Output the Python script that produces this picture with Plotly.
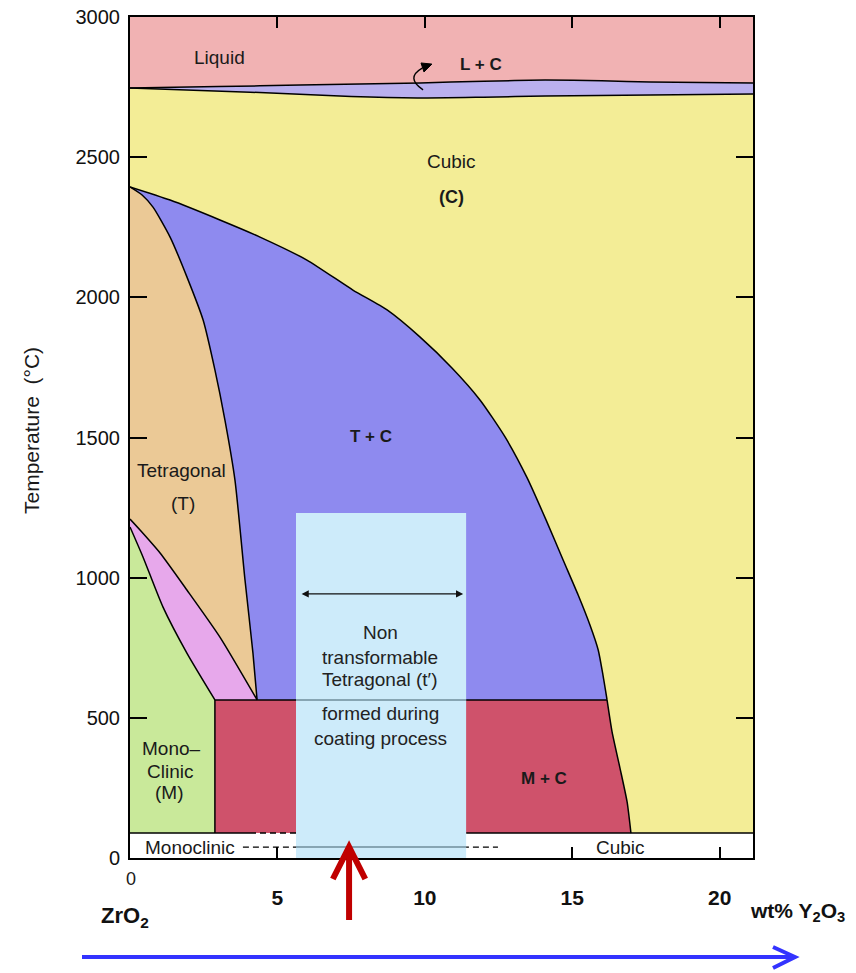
import plotly.graph_objects as go

# ---- ZrO2 - Y2O3 phase diagram: composition (wt% Y2O3) vs temperature (°C) ----
X_MAX = 21.13          # right edge of the composition axis
T_MAX = 3000           # top of the temperature axis
T_EUTECTOID = 564      # monoclinic + cubic / tetragonal + cubic boundary
T_ROOM = 89            # bottom of the coloured field
T_LOW = 39             # dashed low-temperature boundary

# liquidus / solidus (L + C band)
liquidus_x = [0, 3.0, 5.77, 9.84, 12.0, 14.08, 16.0, 17.64, 21.13]
liquidus_t = [2747, 2752, 2757, 2765, 2771, 2775, 2773, 2768, 2765]
solidus_x = [0, 4.07, 7.5, 9.74, 12.0, 14.08, 17.64, 21.13]
solidus_t = [2747, 2732, 2716, 2711, 2714, 2718, 2722, 2725]

# (T + C) / cubic boundary
cubic_x = [0, 1.36, 3.05, 4.41, 6.00, 7.56, 8.72, 9.84, 10.92, 11.87, 12.72,
           13.47, 14.11, 14.69, 15.20, 15.60, 15.88, 16.04, 16.18]
cubic_t = [2394, 2347, 2276, 2215, 2133, 2026, 1955, 1858, 1748, 1634, 1502,
           1356, 1206, 1063, 938, 831, 742, 653, 564]

# tetragonal / (T + C) boundary
tetra_x = [0, 0.41, 0.78, 1.36, 1.93, 2.48, 2.88, 3.22, 3.56, 3.90, 4.17, 4.31]
tetra_t = [2394, 2365, 2322, 2215, 2073, 1919, 1741, 1562, 1348, 992, 731, 564]

# tetragonal / (M + T) boundary
mt_upper_x = [0, 0.34, 1.02, 1.93, 3.05, 4.31]
mt_upper_t = [1209, 1170, 1088, 956, 788, 564]

# monoclinic / (M + T) boundary
mt_lower_x = [0, 0.44, 1.12, 1.93, 2.88]
mt_lower_t = [1181, 1074, 895, 731, 564]

# (M + C) / cubic boundary
mc_right_x = [16.18, 16.35, 16.62, 16.86, 16.99]
mc_right_t = [564, 450, 320, 200, 89]

# non-transformable t' composition window
tprime_x = [5.63, 11.40]
tprime_top = 1231
tprime_arrow_t = 942

# phase colours
C_LIQUID = "#F1B2B3"
C_LC = "#BAB0EE"
C_CUBIC = "#F3ED96"
C_TETRA = "#EBC996"
C_TC = "#8E8AEF"
C_MT = "#E7A8EB"
C_MONO = "#C9E99A"
C_MC = "#CF526B"
C_BOX = "#CDEBFA"

DIAG_FONT = "Liberation Sans, Arial, sans-serif"

fig = go.Figure()


def region(xs, ts, color):
    fig.add_trace(go.Scatter(x=xs, y=ts, fill="toself", fillcolor=color,
                             mode="lines", line=dict(width=0, color=color),
                             hoverinfo="skip", showlegend=False))


def boundary(xs, ts, dash="solid", width=1.5, color="black"):
    fig.add_trace(go.Scatter(x=xs, y=ts, mode="lines",
                             line=dict(color=color, width=width, dash=dash,
                                       shape="spline", smoothing=0.6),
                             hoverinfo="skip", showlegend=False))


x_eut_left = mt_lower_x[-1]

# filled phase fields
region(liquidus_x + [X_MAX, 0], liquidus_t + [T_MAX, T_MAX], C_LIQUID)
region(liquidus_x + solidus_x[::-1], liquidus_t + solidus_t[::-1], C_LC)
region(solidus_x + [X_MAX, 0], solidus_t + [T_ROOM, T_ROOM], C_CUBIC)
region(tetra_x + mt_upper_x[::-1], tetra_t + mt_upper_t[::-1], C_TETRA)
region(cubic_x + tetra_x[::-1], cubic_t + tetra_t[::-1], C_TC)
region(mt_upper_x + mt_lower_x[::-1], mt_upper_t + mt_lower_t[::-1], C_MT)
region(mt_lower_x + [x_eut_left, 0], mt_lower_t + [T_ROOM, T_ROOM], C_MONO)
region([x_eut_left] + mc_right_x + [x_eut_left],
       [T_EUTECTOID] + mc_right_t + [T_ROOM], C_MC)

# phase boundaries
for bx, bt in [(liquidus_x, liquidus_t), (solidus_x, solidus_t),
               (cubic_x, cubic_t), (tetra_x, tetra_t),
               (mt_upper_x, mt_upper_t), (mt_lower_x, mt_lower_t),
               (mc_right_x, mc_right_t)]:
    boundary(bx, bt)
boundary([x_eut_left, cubic_x[-1]], [T_EUTECTOID, T_EUTECTOID])
boundary([x_eut_left, x_eut_left], [T_EUTECTOID, T_ROOM])
boundary([0, 4.07], [T_ROOM, T_ROOM])
boundary([4.07, tprime_x[0]], [T_ROOM, T_ROOM], dash="6px,4px")
boundary([tprime_x[1], X_MAX], [T_ROOM, T_ROOM])
boundary([3.83, 12.48], [T_LOW, T_LOW], dash="6px,4px", width=1.3)

shapes = []
# t' window
shapes.append(dict(type="rect", xref="x", yref="y", x0=tprime_x[0], x1=tprime_x[1],
                   y0=0, y1=tprime_top, fillcolor=C_BOX, line=dict(width=0),
                   layer="above"))
for t in (T_EUTECTOID, T_LOW):
    shapes.append(dict(type="line", xref="x", yref="y", x0=tprime_x[0], x1=tprime_x[1],
                       y0=t, y1=t, line=dict(color="#6f8e9b", width=1.5), layer="above"))

# small curved pointer to the L + C band
shapes.append(dict(type="path", xref="x", yref="y", layer="above",
                   path="M 9.94,2740 Q 9.33,2783 9.91,2818",
                   line=dict(color="black", width=1.4)))
shapes.append(dict(type="path", xref="x", yref="y", layer="above",
                   path="M 10.24,2832 L 9.87,2836 L 9.97,2804 Z",
                   fillcolor="black", line=dict(color="black", width=1)))


def py(pix):
    # paper fraction for a pixel row below / inside the plot frame
    return (858 - pix) / 841


def px(pix):
    return (pix - 130) / 623


# red pointer at the t' composition
x_red = 7.43
shapes.append(dict(type="line", xref="x", yref="paper", x0=x_red, x1=x_red,
                   y0=py(920), y1=py(849), line=dict(color="#C00000", width=6)))
shapes.append(dict(type="path", xref="x", yref="paper",
                   path=f"M 6.88,{py(879)} L {x_red},{py(847)} L 7.98,{py(879)}",
                   line=dict(color="#C00000", width=6)))

# blue composition arrow
shapes.append(dict(type="line", xref="paper", yref="paper", x0=px(82), x1=px(792),
                   y0=py(957), y1=py(957), line=dict(color="#3333FF", width=4)))
shapes.append(dict(type="path", xref="paper", yref="paper",
                   path=f"M {px(773)},{py(947)} L {px(795)},{py(957)} L {px(773)},{py(968)}",
                   line=dict(color="#3333FF", width=4)))

ann = []


def label(text, x, y, size=19, bold=False, color="#1a1a1a", font=DIAG_FONT,
          xref="x", yref="y", angle=0):
    ann.append(dict(text=f"<b>{text}</b>" if bold else text, x=x, y=y,
                    xref=xref, yref=yref, showarrow=False, textangle=angle,
                    xanchor="center", yanchor="middle",
                    font=dict(family=font, size=size, color=color)))


# phase field labels
label("Liquid", 3.05, 2857, 19)
label("L + C", 11.91, 2832, 17, bold=True)
label("Cubic", 10.92, 2483, 19)
label("(C)", 10.92, 2358, 18, bold=True)
label("T + C", 8.18, 1505, 17, bold=True)
label("Tetragonal", 1.76, 1384, 19)
label("(T)", 1.80, 1266, 19)
label("Mono–", 1.42, 392, 19)
label("Clinic", 1.36, 307, 19)
label("(M)", 1.32, 232, 19)
label("M + C", 14.04, 285, 17, bold=True)
label("Monoclinic", 2.04, 39, 19)
label("Cubic", 16.62, 39, 19)

# t' annotation text
for txt, t in [("Non", 803), ("transformable", 717), ("Tetragonal (t′)", 635),
               ("formed during", 514), ("coating process", 428)]:
    label(txt, 8.48, t, 19, color="#222222")

# double-headed arrow across the t' window
ann.append(dict(x=tprime_x[1] - 0.1, y=tprime_arrow_t, ax=tprime_x[0] + 0.14,
                ay=tprime_arrow_t, xref="x", yref="y", axref="x", ayref="y",
                text="", showarrow=True, arrowside="end+start", arrowhead=2,
                arrowsize=1.1, arrowwidth=1.3, arrowcolor="#111111",
                standoff=0, startstandoff=0))

# axis-end labels
label("0", px(131), py(879), 18, xref="paper", yref="paper")
label("ZrO<sub>2</sub>", px(125), py(917), 22, bold=True, font="Liberation Sans, Arial",
      xref="paper", yref="paper", color="#111111")
label("wt% Y<sub>2</sub>O<sub>3</sub>", px(797), py(912), 21, bold=True,
      font="Liberation Sans, Arial", xref="paper", yref="paper", color="#111111")
label("Temperature  (°C)", px(32), py(431), 21, xref="paper", yref="paper", angle=-90)

fig.update_layout(
    width=856, height=973,
    margin=dict(l=130, r=103, t=17, b=115, autoexpand=False),
    paper_bgcolor="white", plot_bgcolor="white",
    shapes=shapes, annotations=ann, showlegend=False,
    xaxis=dict(range=[0, X_MAX], tickvals=[5, 10, 15, 20],
               ticktext=["<b>5</b>", "<b>10</b>", "<b>15</b>", "<b>20</b>"],
               ticks="inside", ticklen=11, tickwidth=1.8, tickcolor="black",
               showline=True, linewidth=2, linecolor="black", mirror="ticks",
               showgrid=False, zeroline=False, ticklabelstandoff=20, automargin=False,
               tickfont=dict(family="Liberation Sans, Arial", size=21, color="#111111")),
    yaxis=dict(range=[0, T_MAX], tickvals=[0, 500, 1000, 1500, 2000, 2500, 3000],
               ticks="inside", ticklen=17, tickwidth=1.5, tickcolor="black",
               showline=True, linewidth=2, linecolor="black", mirror="ticks",
               showgrid=False, zeroline=False, ticklabelstandoff=4, automargin=False,
               tickfont=dict(family=DIAG_FONT, size=20, color="#111111")),
)

fig.write_html("out.html")
